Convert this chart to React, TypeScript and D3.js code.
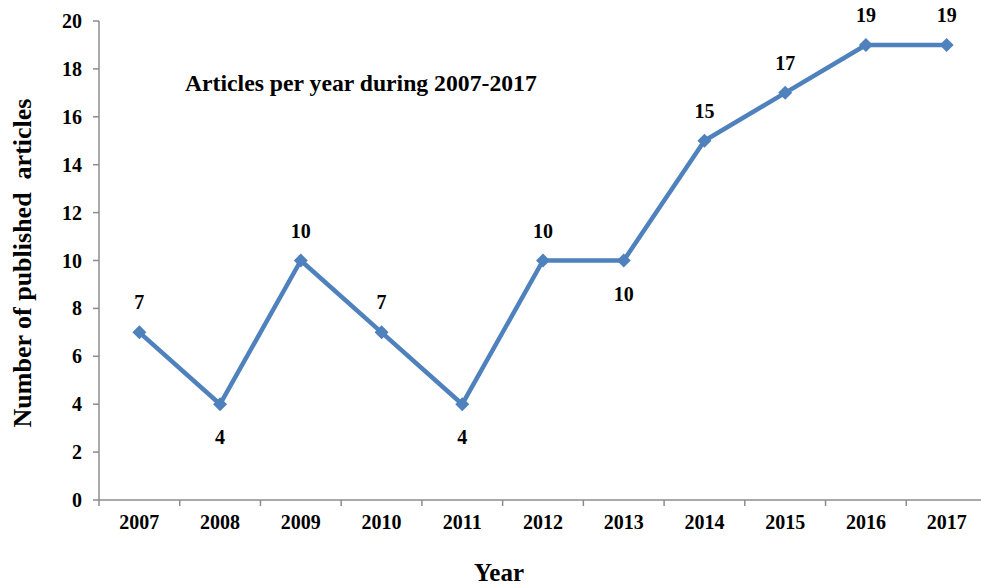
import React from "react";
import * as d3 from "d3";

const years = ["2007","2008","2009","2010","2011","2012","2013","2014","2015","2016","2017"];
const articles = [7, 4, 10, 7, 4, 10, 10, 15, 17, 19, 19];
const labelBelow = [false, true, false, false, true, false, true, false, false, false, false];
const yTicks = [0, 2, 4, 6, 8, 10, 12, 14, 16, 18, 20];

const W = 981, H = 588;
const left = 99, right = 987, top = 21, bottom = 500;
const font = "'Liberation Serif', 'Times New Roman', serif";
const blue = "#4f81bd";
const axisCol = "#8c8c8c";

export default function App() {
  const x = d3.scaleBand<string>().domain(years).range([left, right]).padding(0);
  const y = d3.scaleLinear().domain([0, 20]).range([bottom, top]);
  const cx = (yr: string) => (x(yr) as number) + x.bandwidth() / 2;
  const line = d3.line<number>().x((_, i) => cx(years[i])).y(d => y(d));
  const r = 7;
  const diamond = `M0,${-r}L${r},0L0,${r}L${-r},0Z`;
  const bounds = [...years.map(yr => x(yr) as number), right];

  return (
    <svg width={W} height={H} style={{ position: "absolute", left: 0, top: 0, background: "#fff" }}>
      <rect width={W} height={H} fill="#fff" />
      {/* y axis */}
      <line x1={left} x2={left} y1={top} y2={bottom} stroke={axisCol} strokeWidth={1.5} />
      {yTicks.map(t => (
        <g key={t}>
          <line x1={left - 6} x2={left} y1={y(t)} y2={y(t)} stroke={axisCol} strokeWidth={1.5} />
          <text x={82} y={y(t)} dy="0.35em" textAnchor="end" fontFamily={font} fontWeight="bold" fontSize={20}>{t}</text>
        </g>
      ))}
      {/* x axis */}
      <line x1={left} x2={W} y1={bottom} y2={bottom} stroke={axisCol} strokeWidth={1.5} />
      {bounds.map((b, i) => (
        <line key={i} x1={b} x2={b} y1={bottom} y2={bottom + 6} stroke={axisCol} strokeWidth={1.5} />
      ))}
      {years.map(yr => (
        <text key={yr} x={cx(yr)} y={529} textAnchor="middle" fontFamily={font} fontWeight="bold" fontSize={20}>{yr}</text>
      ))}
      {/* line */}
      <path d={line(articles) || ""} fill="none" stroke={blue} strokeWidth={4.5} strokeLinejoin="round" />
      {articles.map((v, i) => (
        <path key={i} d={diamond} transform={`translate(${cx(years[i])},${y(v)})`} fill={blue} />
      ))}
      {articles.map((v, i) => (
        <text key={"l" + i} x={cx(years[i])} y={labelBelow[i] ? y(v) + 40 : y(v) - 23}
          textAnchor="middle" fontFamily={font} fontWeight="bold" fontSize={20}>{v}</text>
      ))}
      {/* titles */}
      <text x={185} y={91} fontFamily={font} fontWeight="bold" fontSize={23.7}>Articles per year during 2007-2017</text>
      <text transform={`translate(31,263) rotate(-90)`} textAnchor="middle" fontFamily={font} fontWeight="bold" fontSize={26} style={{ whiteSpace: "pre" }}>Number of published  articles</text>
      <text x={499} y={581} textAnchor="middle" fontFamily={font} fontWeight="bold" fontSize={25}>Year</text>
    </svg>
  );
}
